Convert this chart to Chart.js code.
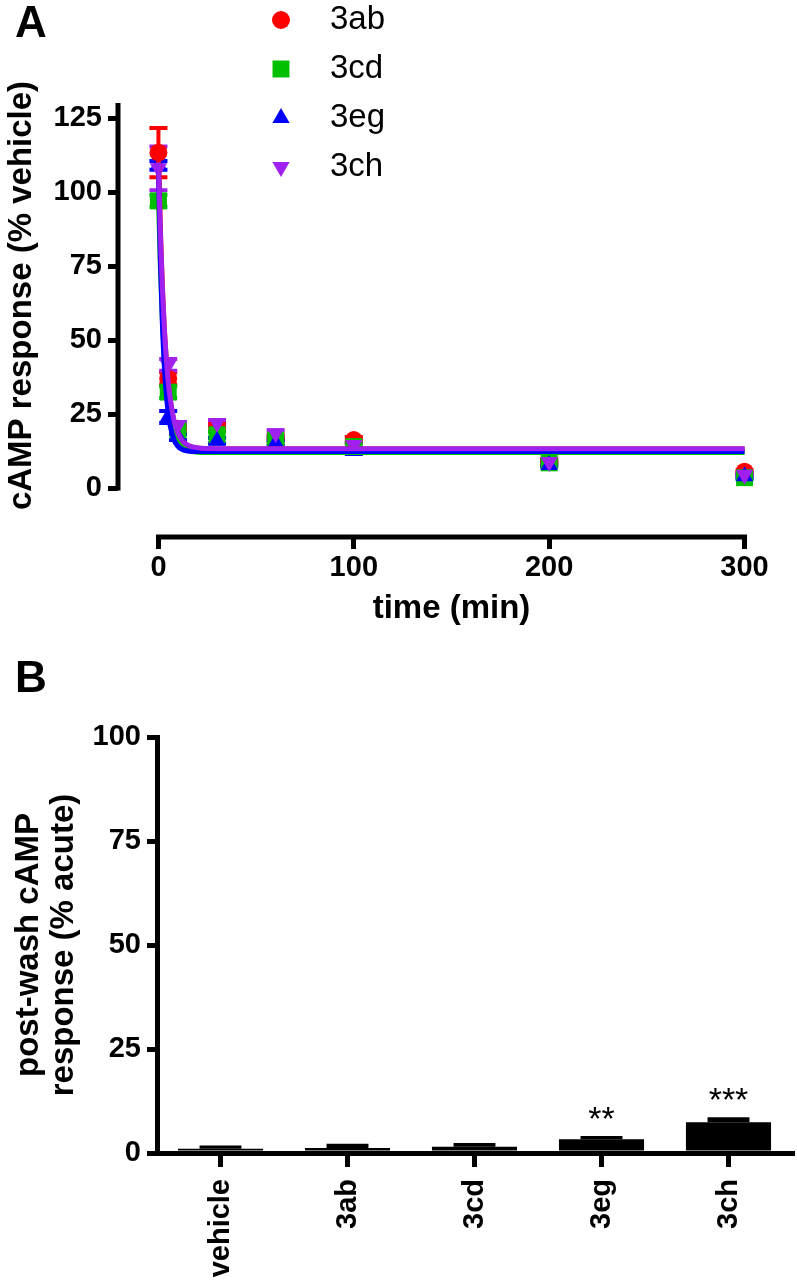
<!DOCTYPE html>
<html>
<head>
<meta charset="utf-8">
<script src="https://cdn.jsdelivr.net/npm/chart.js@4.4.1/dist/chart.umd.min.js"></script>
<style>
  body { margin: 0; background: #fff; width: 797px; height: 1284px; position: relative; overflow: hidden;
         font-family: "Liberation Sans", Arial, sans-serif; }
  #chartA { position: absolute; left: 0; top: 0; }
  #chartB { position: absolute; left: 0; top: 650px; }
  .panel { position: absolute; left: 15px; font-weight: bold; font-size: 44px; line-height: 1; color: #000; }
</style>
</head>
<body>
<canvas id="chartA" width="797" height="650"></canvas>
<canvas id="chartB" width="797" height="634"></canvas>
<div class="panel" style="top:0">A</div>
<div class="panel" style="top:655px">B</div>
<script>
// ---- panel A data (time course) ----
const times = [0, 5, 10, 30, 60, 100, 200, 300];
const seriesNames = ["3ab", "3cd", "3eg", "3ch"];
const vals3ab = [113.3, 37, 20, 20.6, 17, 16.2, 9, 5.5];
const vals3cd = [97, 32.4, 19.6, 18, 16.2, 14, 8.5, 3.5];
const vals3eg = [109, 24, 17.2, 16, 15.2, 12.5, 7.8, 4];
const vals3ch = [108, 41.6, 21.3, 22, 18.5, 14.5, 8.8, 4.5];
const err3ab = [8.3, 2, 1.5, 1.5, 1, 1, 0.8, 0.5];
const err3cd = [2, 2, 1, 1, 1, 1, 0.8, 0.5];
const err3eg = [1.5, 2, 1, 1, 1, 1, 0.5, 0.5];
const err3ch = [7.4, 2, 1, 1, 1, 1, 0.5, 0.5];

// fitted decay curves
const fitTimes = [0, 1, 2, 3, 4, 5, 6, 8, 10, 12, 15, 20, 30, 300];
const fit3ab = [113, 87.2, 68.1, 54, 43.5, 35.7, 29.9, 22.5, 18.4, 16, 14.3, 13.4, 13.2, 13.2];
const fit3cd = [98, 74.4, 57.3, 44.9, 35.9, 29.4, 24.6, 18.6, 15.5, 13.8, 12.7, 12.1, 12, 12];
const fit3eg = [109, 77, 55.7, 41.4, 31.8, 25.4, 21.1, 16.2, 14.1, 13.1, 12.5, 12.3, 12.3, 12.3];
const fit3ch = [110, 85.8, 67.6, 54, 43.8, 36, 30.4, 22.7, 18.6, 16.2, 14.5, 13.6, 13.3, 13.3];

const xTicksA = [0, 100, 200, 300];
const yTicksA = [0, 25, 50, 75, 100, 125];

// ---- panel B data (post-wash) ----
const groups = ["vehicle", "3ab", "3cd", "3eg", "3ch"];
const washMean = [1.0, 1.2, 1.5, 3.3, 7.4];
const washSem = [0.8, 1.0, 0.9, 0.8, 1.2];
const washStars = ["", "", "", "**", "***"];
const yTicksB = [0, 25, 50, 75, 100];

const FONT = '"Liberation Sans", Arial, sans-serif';
Chart.defaults.font.family = FONT;
Chart.defaults.color = "#000";

const styles = [
  { color: "#ff0000", pointStyle: "circle", radius: 9, rotation: 0 },
  { color: "#00c000", pointStyle: "rect", radius: 12, rotation: 0 },
  { color: "#0000ff", pointStyle: "triangle", radius: 10, rotation: 0 },
  { color: "#a020f0", pointStyle: "triangle", radius: 10, rotation: 180 },
];

const markerSets = [vals3ab, vals3cd, vals3eg, vals3ch];
const errSets = [err3ab, err3cd, err3eg, err3ch];
const fitSets = [fit3ab, fit3cd, fit3eg, fit3ch];

const datasetsA = [];
seriesNames.forEach((name, i) => {
  const s = styles[i];
  datasetsA.push({
    type: "scatter",
    label: name,
    data: times.map((t, j) => ({ x: t, y: markerSets[i][j] })),
    err: errSets[i],
    pointStyle: s.pointStyle,
    pointRadius: s.radius,
    pointHoverRadius: s.radius,
    pointRotation: s.rotation,
    pointBorderWidth: 0,
    backgroundColor: s.color,
    borderColor: s.color,
    order: 8 - i,
  });
});
seriesNames.forEach((name, i) => {
  datasetsA.push({
    type: "line",
    label: name + " fit",
    data: fitTimes.map((t, j) => ({ x: t, y: fitSets[i][j] })),
    borderColor: styles[i].color,
    borderWidth: 5,
    pointRadius: 0,
    cubicInterpolationMode: "monotone",
    fill: false,
    order: 4 - i,
  });
});

// error bars, detached axes, y title and legend for panel A
const panelA = {
  id: "panelA",
  beforeDatasetsDraw(chart) {
    const { ctx, scales: { x, y } } = chart;
    ctx.save();
    ctx.lineWidth = 4;
    chart.data.datasets.forEach(ds => {
      if (!ds.err) return;
      ctx.strokeStyle = ds.backgroundColor;
      ds.data.forEach((p, j) => {
        const e = ds.err[j];
        if (!e) return;
        const px = x.getPixelForValue(p.x);
        const top = y.getPixelForValue(p.y + e);
        const bot = y.getPixelForValue(p.y - e);
        ctx.beginPath();
        ctx.moveTo(px, top); ctx.lineTo(px, bot);
        ctx.moveTo(px - 9, top); ctx.lineTo(px + 9, top);
        ctx.moveTo(px - 9, bot); ctx.lineTo(px + 9, bot);
        ctx.stroke();
      });
    });
    ctx.restore();
  },
  afterDraw(chart) {
    const { ctx, chartArea, scales: { x, y } } = chart;
    ctx.save();
    ctx.strokeStyle = "#000";
    ctx.lineWidth = 5;
    ctx.beginPath();
    ctx.moveTo(chartArea.left, y.getPixelForValue(0) + 2.5);
    ctx.lineTo(chartArea.left, chartArea.top);
    ctx.moveTo(x.getPixelForValue(0) - 2.5, chartArea.bottom);
    ctx.lineTo(x.getPixelForValue(300) + 2.5, chartArea.bottom);
    ctx.stroke();

    // y title centred on the axis line
    ctx.fillStyle = "#000";
    ctx.font = "bold 33px " + FONT;
    ctx.textAlign = "center";
    ctx.textBaseline = "middle";
    ctx.translate(22, (y.getPixelForValue(0) + chartArea.top) / 2);
    ctx.rotate(-Math.PI / 2);
    ctx.fillText("cAMP response (% vehicle)", 0, 0);
    ctx.setTransform(1, 0, 0, 1, 0, 0);

    // legend
    ctx.font = "33px " + FONT;
    ctx.textAlign = "left";
    seriesNames.forEach((name, i) => {
      const s = styles[i];
      const ly = 20 + i * 49;
      ctx.fillStyle = s.color;
      Chart.helpers.drawPoint(ctx, { pointStyle: s.pointStyle, radius: s.radius, rotation: s.rotation, borderWidth: 0 }, 281, ly);
      ctx.fillStyle = "#000";
      ctx.fillText(name, 330, ly);
    });
    ctx.restore();
  },
};

new Chart(document.getElementById("chartA"), {
  type: "scatter",
  data: { datasets: datasetsA },
  options: {
    responsive: false,
    animation: false,
    devicePixelRatio: 1,
    layout: { padding: { top: 103, left: 0, right: 3, bottom: 21 } },
    plugins: { legend: { display: false }, tooltip: { enabled: false } },
    scales: {
      x: {
        type: "linear",
        min: -20.7,
        max: 320.7,
        afterBuildTicks: s => { s.ticks = xTicksA.map(v => ({ value: v })); },
        afterFit: s => { s.height = 92; },
        border: { display: false },
        grid: { drawOnChartArea: false, tickLength: 12, lineWidth: 5, color: "#000" },
        ticks: { font: { size: 29, weight: "bold" }, padding: 2, maxRotation: 0, color: "#000" },
        title: { display: true, text: "time (min)", font: { size: 33, weight: "bold" }, padding: 0, color: "#000" },
      },
      y: {
        min: -16.55,
        max: 130.07,
        afterBuildTicks: s => { s.ticks = yTicksA.map(v => ({ value: v })); },
        afterFit: s => { s.width = 118; },
        border: { display: false },
        grid: { drawOnChartArea: false, tickLength: 10, lineWidth: 5, color: "#000" },
        ticks: { font: { size: 29, weight: "bold" }, padding: 6, color: "#000" },
      },
    },
  },
  plugins: [panelA],
});

// stars over bars in panel B
const starsB = {
  id: "starsB",
  afterDatasetsDraw(chart) {
    const { ctx, scales: { x, y } } = chart;
    ctx.save();
    ctx.fillStyle = "#000";
    ctx.font = "34px " + FONT;
    ctx.textAlign = "center";
    ctx.textBaseline = "alphabetic";
    washStars.forEach((st, i) => {
      if (!st) return;
      ctx.fillText(st, x.getPixelForValue(i), y.getPixelForValue(washMean[i] + washSem[i]) - 6);
    });
    ctx.restore();
  },
};

new Chart(document.getElementById("chartB"), {
  type: "bar",
  data: {
    labels: groups,
    datasets: [
      {
        label: "mean",
        data: washMean,
        backgroundColor: "#000",
        barPercentage: 0.67,
        categoryPercentage: 1,
        grouped: false,
        order: 2,
      },
      {
        label: "SEM",
        data: washMean.map((m, i) => [m, m + washSem[i]]),
        backgroundColor: "#000",
        barPercentage: 0.33,
        categoryPercentage: 1,
        grouped: false,
        order: 1,
      },
    ],
  },
  options: {
    responsive: false,
    animation: false,
    devicePixelRatio: 1,
    layout: { padding: { top: 87, left: 0, right: 5, bottom: 0 } },
    plugins: { legend: { display: false }, tooltip: { enabled: false } },
    scales: {
      x: {
        afterFit: s => { s.height = 131; },
        border: { width: 5, color: "#000" },
        grid: { offset: false, drawOnChartArea: false, tickLength: 14, lineWidth: 5, color: "#000" },
        ticks: { font: { size: 29, weight: "bold" }, minRotation: 90, maxRotation: 90, autoSkip: false, padding: 12, color: "#000" },
      },
      y: {
        min: 0,
        max: 100,
        afterBuildTicks: s => { s.ticks = yTicksB.map(v => ({ value: v })); },
        afterFit: s => { s.width = 157; },
        border: { width: 5, color: "#000" },
        grid: { drawOnChartArea: false, tickLength: 10, lineWidth: 5, color: "#000" },
        ticks: { font: { size: 29, weight: "bold" }, padding: 6, color: "#000" },
        title: {
          display: true,
          text: ["post-wash cAMP", "response (% acute)"],
          font: { size: 33, weight: "bold", lineHeight: 1.05 },
          padding: { top: 12 },
          color: "#000",
        },
      },
    },
  },
  plugins: [starsB],
});
</script>
</body>
</html>
